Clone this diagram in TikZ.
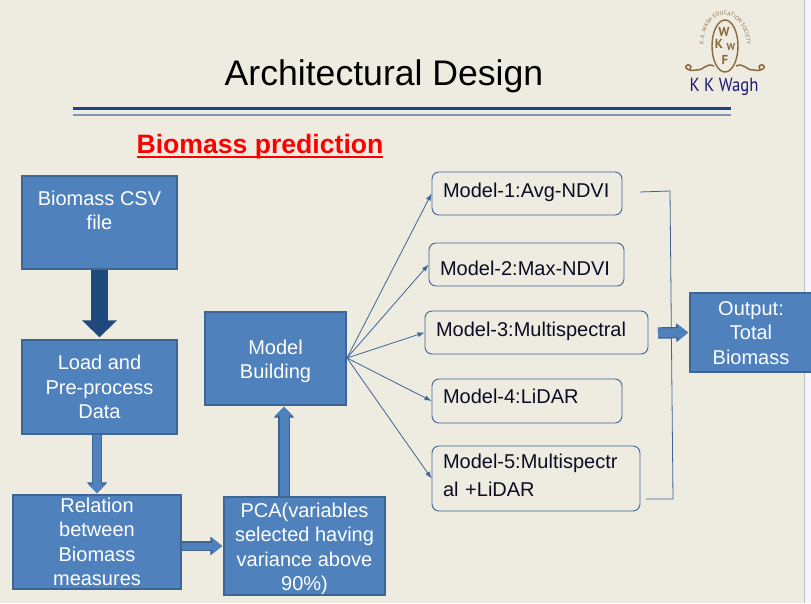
\documentclass[tikz,border=0pt]{standalone}
\usepackage{fontspec}
\setmainfont{Liberation Sans}
\newfontfamily\logofont{PT Sans}
\usetikzlibrary{positioning}
\usetikzlibrary{arrows.meta}
\usetikzlibrary{decorations.text}
\definecolor{slidebg}{HTML}{EEECE1}
\definecolor{boxfill}{HTML}{4F81BD}
\definecolor{boxline}{HTML}{3D6596}
\definecolor{darkarrow}{HTML}{1F497D}
\definecolor{ruleblue}{HTML}{1C4587}
\definecolor{rulelight}{HTML}{7F96BA}
\definecolor{logobrown}{HTML}{8B6A3A}
\definecolor{logonavy}{HTML}{1A1A70}
\definecolor{modelink}{HTML}{0C0C24}
\newcommand{\labelpad}[2]{\rule[-#2pt]{0pt}{\dimexpr#1pt+#2pt\relax}}
\tikzset{
  blockbox/.style={draw=boxline,line width=1.4pt,fill=boxfill,text=white,align=center,inner sep=0pt,font=\fontsize{20}{24.4}\selectfont},
  modelbox/.style n args={2}{draw=boxline,line width=0.9pt,rounded corners=7pt,inner xsep=11pt,inner ysep=0pt,text=modelink,align=left,text width=#1-22pt,minimum height=#2,font=\fontsize{20}{28}\selectfont},
  thinarrow/.style={draw=boxline,line width=0.8pt,-{Latex[length=7pt,width=5pt]}},
  fatarrow/.style n args={4}{preaction={draw=#4,line width=#1+2.4pt,-{Triangle[width=#2+3pt,length=#3+2pt]}},draw=boxfill,line width=#1,-{Triangle[width=#2,length=#3]},shorten >=1pt},
  logoletter/.style={font=\logofont\bfseries\fontsize{#1}{#1}\selectfont,text=logobrown,inner sep=0pt},
}
\begin{document}
\begin{tikzpicture}[x=1pt,y=-1pt]
\useasboundingbox (0,0) rectangle (811,603);
\fill[slidebg] (0,0) rectangle (805,603);
\fill[white!96!blue] (805,0) rectangle (811,603);
\draw[lightgray,line width=1pt] (804.5,0) -- (804.5,603);

\node[font=\fontsize{35.6}{40}\selectfont,text=black] (title) at (384,76) {Architectural Design};
\draw[ruleblue,line width=3pt] (73,108) -- (731,108);
\draw[rulelight,line width=2pt] (73,114.5) -- (731,114.5);
\node[font=\fontsize{26.6}{30}\selectfont\bfseries,text=red] (subtitle) at (260,147) {Biomass prediction};
\draw[red,line width=1.6pt] (137,157) -- (383,157);

\draw[logobrown,line width=1.4pt] (725,46) ellipse (13pt and 26pt);
\node[logoletter=13] (logow) at (724,32) {W};
\node[logoletter=13] (logok) at (719,44) {K};
\node[logoletter=10] (logos) at (731,47) {W};
\node[logoletter=13] (logof) at (725,60) {F};
\path[decorate,decoration={text along path,text align=center,text={|\logofont\fontsize{5.6}{6}\selectfont\color{logobrown!80!gray}|K. K. WAGH EDUCATION SOCIETY}}]
  (704,54) .. controls (698,2) and (750,2) .. (747,54);
\draw[logobrown,line width=1.5pt] (714,66) .. controls (706,62) and (702,72) .. (696,70) .. controls (690,72) and (684,68) .. (686,66) .. controls (688,63) and (693,66) .. (690,69);
\draw[logobrown,line width=1.5pt] (736,66) .. controls (744,62) and (748,72) .. (754,70) .. controls (760,72) and (766,68) .. (764,66) .. controls (762,63) and (757,66) .. (760,69);
\node[font=\logofont\fontsize{19}{20}\selectfont,text=logonavy,xscale=0.88] (logoname) at (724,87) {K K Wagh};

\node[blockbox,minimum width=155pt,minimum height=93pt] (csv) at (99.5,222.5) {Biomass CSV\\file\\~};
\node[blockbox,minimum width=155pt,minimum height=94pt] (load) at (99.5,387) {Load and\\Pre-process\\Data};
\node[blockbox,minimum width=168pt,minimum height=94pt] (relation) at (97,542) {Relation\\between\\Biomass\\measures};
\node[blockbox,minimum width=141pt,minimum height=93pt] (mb) at (275.5,358.5) {\rule{0pt}{20.5pt}Model\\Building};
\node[blockbox,minimum width=161pt,minimum height=94pt] (pca) at (304.5,546) {\rule{0pt}{20.5pt}PCA(variables\\selected having\\variance above\\90\%)};
\node[blockbox,minimum width=125pt,minimum height=79pt] (output) at (752.5,332.5) {\rule{0pt}{15pt}\hspace*{-3pt}Output:\\\hspace*{-3pt}Total\\\hspace*{-3pt}Biomass};

\node[modelbox={190pt}{43pt}] (m1) at (527,193.5) {\labelpad{15}{8}Model-1:Avg-NDVI};
\node[modelbox={195pt}{43pt}] (m2) at (526.5,264.5) {\labelpad{25}{4}Model-2:Max-NDVI};
\node[modelbox={223pt}{43pt}] (m3) at (536.5,332.5) {\labelpad{15}{8}Model-3:Multispectral};
\node[modelbox={190pt}{44pt}] (m4) at (527,401) {\labelpad{15}{11}Model-4:LiDAR};
\node[modelbox={208pt}{65pt}] (m5) at (536,478.5) {\labelpad{15}{0}Model-5:Multispectr\\\labelpad{0}{8}al +LiDAR};

\coordinate (mbout) at (347,358);
\draw[thinarrow] (mbout) -- (m1.west);
\draw[thinarrow] (mbout) -- (m2.west);
\draw[thinarrow] (mbout) -- (m3.west);
\draw[thinarrow] (mbout) -- (m4.west);
\draw[thinarrow] (mbout) -- (m5.west);

\coordinate (busin) at (640,192);
\coordinate (busout) at (646,499);
\draw[boxline,line width=0.8pt] (busin) -- (670,191) -- (673,499) -- (busout);

\coordinate (busarrow) at (658,333);
\draw[fatarrow={9pt}{15pt}{10pt}{boxline}] (busarrow) -- (output.west);
\draw[fatarrow={8pt}{17pt}{9pt}{boxline}] (relation.north |- load.south) -- (relation.north);
\draw[fatarrow={7pt}{15pt}{10pt}{boxline}] (relation.east |- pca.west) -- (pca.west);
\draw[fatarrow={9pt}{17pt}{9pt}{boxline}] ([xshift=8.5pt]mb.south |- pca.north) -- ([xshift=8.5pt]mb.south);
\draw[line width=17pt,draw=darkarrow,-{Triangle[width=34pt,length=17pt]},shorten >=2pt] (99.5,270) -- (load.north);
\end{tikzpicture}
\end{document}
